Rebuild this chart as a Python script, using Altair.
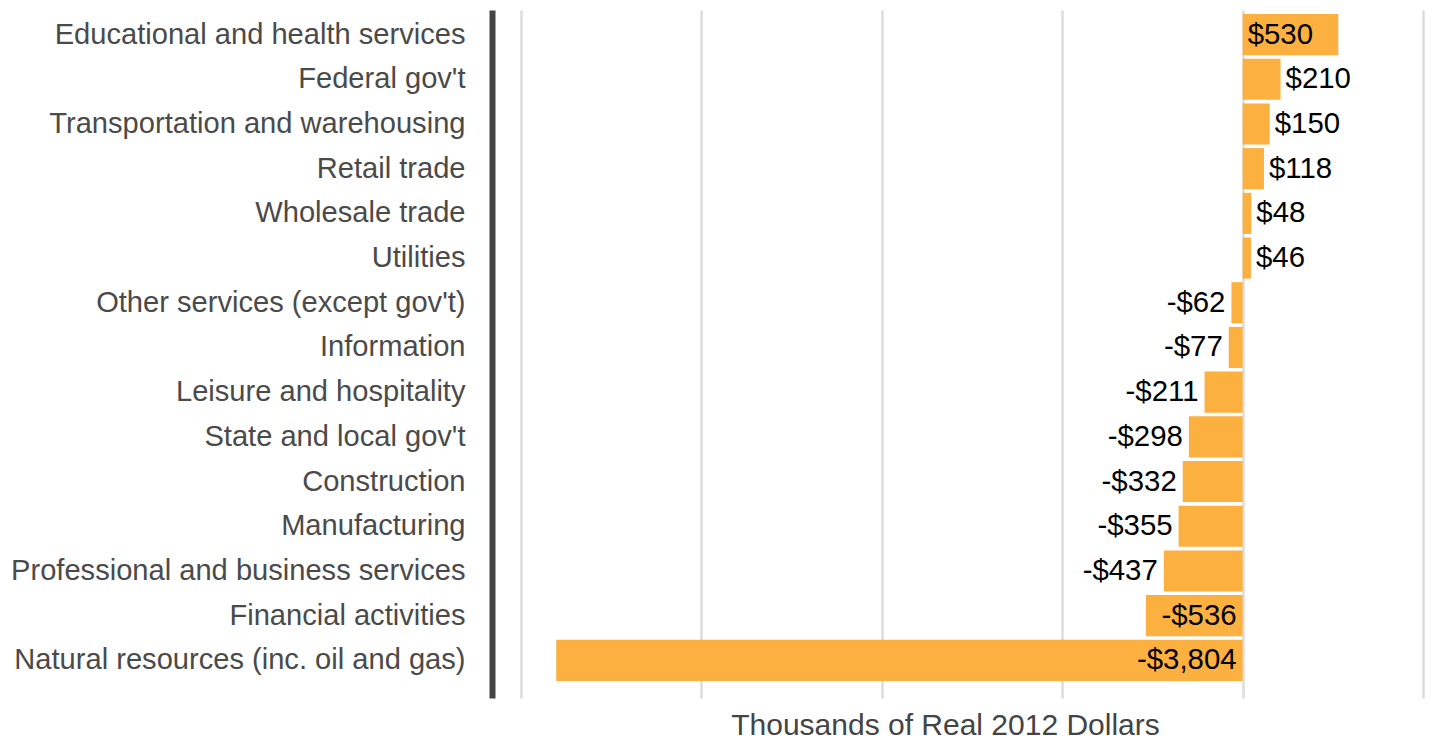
import altair as alt
import pandas as pd

categories = [
    "Educational and health services",
    "Federal gov't",
    "Transportation and warehousing",
    "Retail trade",
    "Wholesale trade",
    "Utilities",
    "Other services (except gov't)",
    "Information",
    "Leisure and hospitality",
    "State and local gov't",
    "Construction",
    "Manufacturing",
    "Professional and business services",
    "Financial activities",
    "Natural resources (inc. oil and gas)",
]
values = [530, 210, 150, 118, 48, 46, -62, -77, -211, -298, -332, -355, -437, -536, -3804]
grid_ticks = [-4000, -3000, -2000, -1000, 0, 1000]

df = pd.DataFrame({"industry": categories, "value": values})

FONT = "Liberation Sans, Arial, Helvetica, sans-serif"
BAR = "#FBB040"
TITLE = "Thousands of Real 2012 Dollars"

y_scale = alt.Scale(domain=categories, paddingInner=0.08, paddingOuter=0.236,
                    align=0.19, round=False)
x_scale = alt.Scale(domain=[-4160, 1005], nice=False, zero=False)

y_axis = alt.Axis(title=None, ticks=False, tickSize=0, labelPadding=27,
                  labelFontSize=29.1, labelColor="#4a4a4a", labelFont=FONT,
                  labelLimit=0, domainColor="#444444", domainWidth=6, grid=False)
x_axis = alt.Axis(title=TITLE, values=grid_ticks,
                  labels=False, ticks=False, domain=False, grid=True,
                  gridColor="#dcdcdc", gridWidth=2.5, titleFontSize=30,
                  titleFontWeight="normal", titleColor="#444444", titleFont=FONT,
                  titleX=453, titleY=36, titleBaseline="alphabetic",
                  titleAlign="center")

x_val = alt.X("value:Q", scale=x_scale, axis=x_axis, title=TITLE)
x_anchor = alt.X("anchor:Q", scale=x_scale, axis=x_axis, title=TITLE)
y_enc = alt.Y("industry:N", scale=y_scale, axis=y_axis, sort=None, title=None)

base = alt.Chart(df)

bars = base.mark_bar(color=BAR).encode(x=x_val, y=y_enc)

lab = base.transform_calculate(
    label="(datum.value < 0 ? '-' : '') + '$' + format(abs(datum.value), ',')",
    anchor="abs(datum.value) >= 500 ? 0 : datum.value",
)

pos = lab.transform_filter("datum.value >= 0").mark_text(
    align="left", baseline="middle", dx=5, fontSize=29.4, font=FONT, color="#000000"
).encode(x=x_anchor, y=y_enc, text="label:N")

neg = lab.transform_filter("datum.value < 0").mark_text(
    align="right", baseline="middle", dx=-6, fontSize=29.4, font=FONT, color="#000000"
).encode(x=x_anchor, y=y_enc, text="label:N")

chart = alt.layer(bars, pos, neg).properties(
    width=932,
    height=688,
    autosize=alt.AutoSizeParams(type="none"),
    padding={"left": 484, "top": 2, "right": 2, "bottom": 44},
    background="white",
).configure_view(stroke=None)

chart.save("out.html", embed_options={"renderer": "svg", "actions": False})
